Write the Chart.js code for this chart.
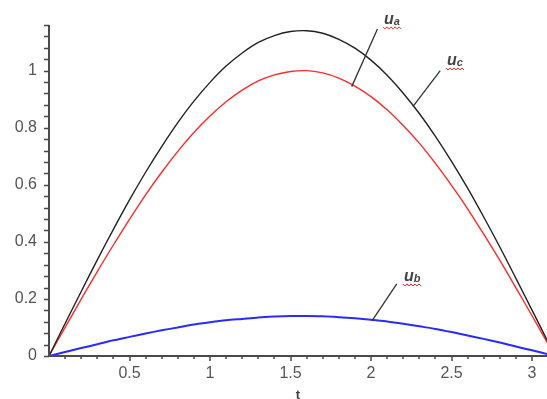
<!DOCTYPE html>
<html lang="en">
<head>
    <meta charset="UTF-8">
    <title>u(t) plot</title>
    <script src="https://cdn.jsdelivr.net/npm/chart.js@4.4.1/dist/chart.umd.min.js"></script>
    <style>
        html, body {
            margin: 0;
            padding: 0;
            background-color: #fff;
        }

        .chart-container {
            position: relative;
            width: 547px;
            height: 399px;
        }
    </style>
</head>
<body>
    <div class="chart-container">
        <canvas id="myChart"></canvas>
    </div>
    <script>
        // values, t from 0 to pi
        const tValues = [0, 0.1, 0.2, 0.3, 0.4, 0.5, 0.6, 0.7, 0.8, 0.9, 1.0, 1.1, 1.2, 1.3, 1.4, 1.5, 1.6,
            1.7, 1.8, 1.9, 2.0, 2.1, 2.2, 2.3, 2.4, 2.5, 2.6, 2.7, 2.8, 2.9, 3.0, 3.1, 3.1416];
        // red curve (label u_a)
        const uaValues = [0, 0.100, 0.199, 0.296, 0.389, 0.479, 0.565, 0.644, 0.717, 0.783, 0.841, 0.891, 0.932,
            0.964, 0.985, 0.997, 1.000, 0.992, 0.974, 0.946, 0.909, 0.863, 0.808, 0.746, 0.675, 0.598, 0.516,
            0.427, 0.335, 0.239, 0.141, 0.042, 0];
        // black curve (label u_c)
        const ucValues = [0, 0.114, 0.226, 0.337, 0.444, 0.547, 0.644, 0.734, 0.818, 0.893, 0.959, 1.016, 1.062,
            1.099, 1.123, 1.137, 1.140, 1.131, 1.110, 1.079, 1.037, 0.984, 0.921, 0.850, 0.770, 0.682, 0.588,
            0.487, 0.382, 0.272, 0.161, 0.048, 0];
        // blue curve (label u_b)
        const ubValues = [0, 0.014, 0.028, 0.041, 0.055, 0.067, 0.079, 0.090, 0.100, 0.110, 0.118, 0.125, 0.130,
            0.135, 0.138, 0.140, 0.140, 0.139, 0.136, 0.132, 0.127, 0.121, 0.113, 0.104, 0.095, 0.084, 0.072,
            0.060, 0.047, 0.033, 0.020, 0.006, 0];

        const xTickLabels = ['0.5', '1', '1.5', '2', '2.5', '3'];
        const yTickLabels = ['0', '0.2', '0.4', '0.6', '0.8', '1'];

        // callout labels and their leader lines, in data units
        const calloutSubs = ['a', 'c', 'b'];
        const calloutText = [[2.081, 1.164], [2.472, 1.020], [2.205, 0.263]];
        const calloutFrom = [[2.04, 1.146], [2.43, 1.0], [2.16, 0.253]];
        const calloutTo = [[1.88, 0.944], [2.26, 0.874], [2.006, 0.123]];

        const toPoints = (ys) => tValues.map((t, i) => ({ x: t, y: ys[i] }));
        const labelOf = (v) => String(Number(v.toFixed(1)));

        const axesPlugin = {
            id: 'mapleAxes',
            afterDatasetsDraw(chart) {
                const { ctx, chartArea, scales } = chart;
                const x = scales.x;
                const y = scales.y;
                ctx.save();
                ctx.strokeStyle = '#4a4a4a';

                // axis lines
                ctx.lineWidth = 2;
                ctx.beginPath();
                ctx.moveTo(chartArea.left, chartArea.top);
                ctx.lineTo(chartArea.left, chartArea.bottom);
                ctx.lineTo(chartArea.right, chartArea.bottom);
                ctx.stroke();

                // tick marks
                ctx.lineWidth = 1.5;
                ctx.beginPath();
                for (let i = 0; i <= 29; i++) {
                    const py = Math.round(y.getPixelForValue(i * 0.04)) + 0.5;
                    ctx.moveTo(chartArea.left - 5, py);
                    ctx.lineTo(chartArea.left, py);
                }
                for (let i = 1; i <= 30; i++) {
                    const px = Math.round(x.getPixelForValue(i * 0.1));
                    const len = i % 5 === 0 ? 5 : 3;
                    ctx.moveTo(px, chartArea.bottom);
                    ctx.lineTo(px, chartArea.bottom + len);
                }
                ctx.stroke();

                // callouts
                ctx.strokeStyle = '#333';
                ctx.lineWidth = 1.3;
                calloutSubs.forEach((sub, i) => {
                    ctx.beginPath();
                    ctx.moveTo(x.getPixelForValue(calloutFrom[i][0]), y.getPixelForValue(calloutFrom[i][1]));
                    ctx.lineTo(x.getPixelForValue(calloutTo[i][0]), y.getPixelForValue(calloutTo[i][1]));
                    ctx.stroke();

                    const tx = x.getPixelForValue(calloutText[i][0]);
                    const ty = y.getPixelForValue(calloutText[i][1]);
                    ctx.fillStyle = '#444';
                    ctx.textBaseline = 'alphabetic';
                    ctx.textAlign = 'left';
                    ctx.font = 'italic bold 16px "Liberation Sans", Arial, sans-serif';
                    ctx.fillText('u', tx, ty);
                    const uw = ctx.measureText('u').width;
                    ctx.font = 'italic bold 11px "Liberation Sans", Arial, sans-serif';
                    ctx.fillText(sub, tx + uw, ty + 1);
                    const sw = ctx.measureText(sub).width;

                    // red squiggle underline
                    ctx.save();
                    ctx.strokeStyle = '#ff2020';
                    ctx.lineWidth = 1;
                    ctx.beginPath();
                    const wy = ty + 4;
                    let k = 0;
                    for (let wx = tx - 1; wx <= tx + uw + sw + 2; wx += 2) {
                        const yy = wy + (k % 2 === 0 ? -1 : 1);
                        if (k === 0) ctx.moveTo(wx, yy); else ctx.lineTo(wx, yy);
                        k++;
                    }
                    ctx.stroke();
                    ctx.restore();
                });

                // axis title
                ctx.fillStyle = '#444';
                ctx.font = 'bold 13px "Liberation Sans", Arial, sans-serif';
                ctx.textAlign = 'center';
                ctx.textBaseline = 'top';
                ctx.fillText('t', (chartArea.left + chartArea.right) / 2, 389);
                ctx.restore();
            }
        };

        const ctx = document.getElementById('myChart').getContext('2d');
        const chart = new Chart(ctx, {
            type: 'scatter',
            data: {
                datasets: [
                    {
                        label: 'u_c',
                        data: toPoints(ucValues),
                        borderColor: '#222',
                        borderWidth: 1.4
                    },
                    {
                        label: 'u_a',
                        data: toPoints(uaValues),
                        borderColor: '#ff2a2a',
                        borderWidth: 1.4
                    },
                    {
                        label: 'u_b',
                        data: toPoints(ubValues),
                        borderColor: '#2a2aff',
                        borderWidth: 2
                    }
                ]
            },
            options: {
                responsive: true,
                maintainAspectRatio: false,
                animation: false,
                layout: {
                    padding: { top: 25, right: 0, left: 0, bottom: 0 }
                },
                datasets: {
                    scatter: {
                        showLine: true,
                        pointRadius: 0,
                        tension: 0.3
                    }
                },
                plugins: {
                    legend: { display: false },
                    tooltip: { enabled: false }
                },
                scales: {
                    x: {
                        type: 'linear',
                        min: 0,
                        max: 3.093,
                        grid: { display: false },
                        border: { display: false },
                        ticks: {
                            stepSize: 0.5,
                            includeBounds: false,
                            maxRotation: 0,
                            padding: 0,
                            color: '#555',
                            font: { family: '"Liberation Sans", Arial, sans-serif', size: 16 },
                            callback: (v) => xTickLabels.includes(labelOf(v)) ? labelOf(v) : ''
                        },
                        afterFit: (scale) => { scale.height = 43; }
                    },
                    y: {
                        type: 'linear',
                        min: 0,
                        max: 1.16,
                        grid: { display: false },
                        border: { display: false },
                        ticks: {
                            stepSize: 0.2,
                            includeBounds: false,
                            padding: 4,
                            color: '#555',
                            font: { family: '"Liberation Sans", Arial, sans-serif', size: 16 },
                            callback: (v) => yTickLabels.includes(labelOf(v)) ? labelOf(v) : ''
                        },
                        afterFit: (scale) => { scale.width = 49; }
                    }
                }
            },
            plugins: [axesPlugin]
        });
    </script>
</body>
</html>
